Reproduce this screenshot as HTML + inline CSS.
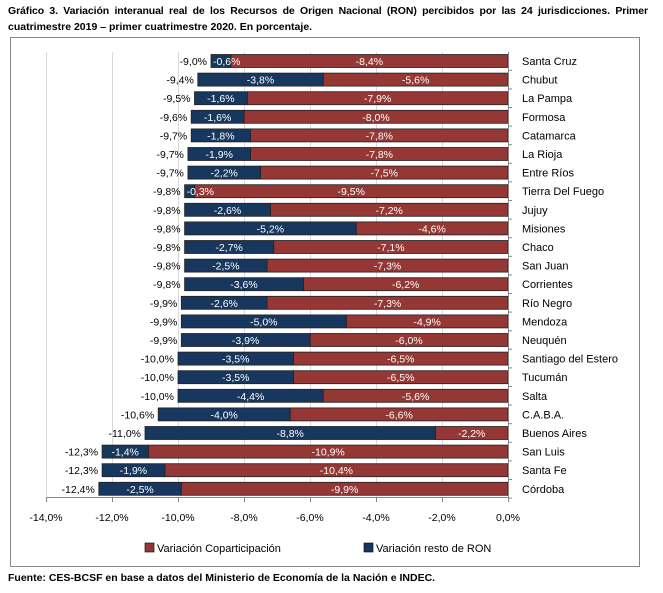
<!DOCTYPE html>
<html><head><meta charset="utf-8"><style>
body{margin:0;background:#fff;}
.t{position:absolute;left:8px;font:bold 10.5px "Liberation Sans",sans-serif;color:#000;}
</style></head><body>
<div style="position:relative;width:663px;height:593px;overflow:hidden">
<div class="t" style="top:5px;width:640px;text-align:justify;text-align-last:justify;letter-spacing:-0.1px">Gráfico 3. Variación interanual real de los Recursos de Origen Nacional (RON) percibidos por las 24 jurisdicciones. Primer</div>
<div class="t" style="top:21px">cuatrimestre 2019 – primer cuatrimestre 2020. En porcentaje.</div>
<div class="t" style="top:572px">Fuente: CES-BCSF en base a datos del Ministerio de Economía de la Nación e INDEC.</div>
<svg width="663" height="593" style="position:absolute;left:0;top:0" font-family="Liberation Sans, sans-serif">
<rect x="10.5" y="37.5" width="629" height="529" fill="none" stroke="#888"/>
<g id="grid" stroke="#d9d9d9"></g>
<g id="bars"></g>
<line x1="508.5" y1="52" x2="508.5" y2="497" stroke="#888"/>
<line x1="46" y1="497.5" x2="508" y2="497.5" stroke="#888"/>
<g id="ax" font-size="10.5" text-anchor="middle" fill="#000"></g>
<rect x="145" y="543" width="9" height="9" fill="#953735" stroke="#000" stroke-width="0.6"/>
<text x="157" y="552" font-size="11">Variación Coparticipación</text>
<rect x="364" y="543" width="9" height="9" fill="#17375e" stroke="#000" stroke-width="0.6"/>
<text x="376" y="552" font-size="11">Variación resto de RON</text>
</svg>
<script>
var d=[["Santa Cruz",-0.6,-8.4,"-9,0%"],["Chubut",-3.8,-5.6,"-9,4%"],["La Pampa",-1.6,-7.9,"-9,5%"],["Formosa",-1.6,-8.0,"-9,6%"],["Catamarca",-1.8,-7.8,"-9,7%"],["La Rioja",-1.9,-7.8,"-9,7%"],["Entre Ríos",-2.2,-7.5,"-9,7%"],["Tierra Del Fuego",-0.3,-9.5,"-9,8%"],["Jujuy",-2.6,-7.2,"-9,8%"],["Misiones",-5.2,-4.6,"-9,8%"],["Chaco",-2.7,-7.1,"-9,8%"],["San Juan",-2.5,-7.3,"-9,8%"],["Corrientes",-3.6,-6.2,"-9,8%"],["Río Negro",-2.6,-7.3,"-9,9%"],["Mendoza",-5.0,-4.9,"-9,9%"],["Neuquén",-3.9,-6.0,"-9,9%"],["Santiago del Estero",-3.5,-6.5,"-10,0%"],["Tucumán",-3.5,-6.5,"-10,0%"],["Salta",-4.4,-5.6,"-10,0%"],["C.A.B.A.",-4.0,-6.6,"-10,6%"],["Buenos Aires",-8.8,-2.2,"-11,0%"],["San Luis",-1.4,-10.9,"-12,3%"],["Santa Fe",-1.9,-10.4,"-12,3%"],["Córdoba",-2.5,-9.9,"-12,4%"]];
var X=function(v){return 508+v*33;},s="",g="",a="";
function f(v){return v.toFixed(1).replace('.',',')+'%';}
for(var k=0;k<=7;k++){var x=X(-2*k);if(k>0)g+='<line x1="'+(x+.5)+'" y1="52" x2="'+(x+.5)+'" y2="497"/>';a+='<line x1="'+(x+.5)+'" y1="497" x2="'+(x+.5)+'" y2="502" stroke="#888"/><text x="'+x+'" y="521">'+(k?'-':'')+(2*k).toFixed(1).replace('.',',')+'%</text>';}
d.forEach(function(r,i){var c=61+i*18.6,y=c-6.5,xr=X(r[2]),xb=X(r[1]+r[2]);
s+='<rect x="'+xr+'" y="'+y+'" width="'+(508-xr)+'" height="13" fill="#953735" stroke="#222" stroke-width="0.8"/>';
s+='<rect x="'+xb+'" y="'+y+'" width="'+(xr-xb)+'" height="13" fill="#17375e" stroke="#222" stroke-width="0.8"/>';
s+='<text x="'+((xr+508)/2)+'" y="'+(c+4)+'" font-size="10.5" fill="#fff" text-anchor="middle">'+f(r[2])+'</text>';
if(xr-xb<25) s+='<text x="'+(xb+2)+'" y="'+(c+4)+'" font-size="10.5" fill="#fff">'+f(r[1])+'</text>';
else s+='<text x="'+((xb+xr)/2)+'" y="'+(c+4)+'" font-size="10.5" fill="#fff" text-anchor="middle">'+f(r[1])+'</text>';
s+='<text x="'+(xb-4)+'" y="'+(c+4)+'" font-size="10.5" text-anchor="end">'+r[3]+'</text>';
s+='<text x="522" y="'+(c+4)+'" font-size="11">'+r[0]+'</text>';
s+='<line x1="508" y1="'+(c+9.3)+'" x2="512" y2="'+(c+9.3)+'" stroke="#888"/>';});
document.getElementById('bars').innerHTML=s;document.getElementById('grid').innerHTML=g;document.getElementById('ax').innerHTML=a;
</script>
</div></body></html>
